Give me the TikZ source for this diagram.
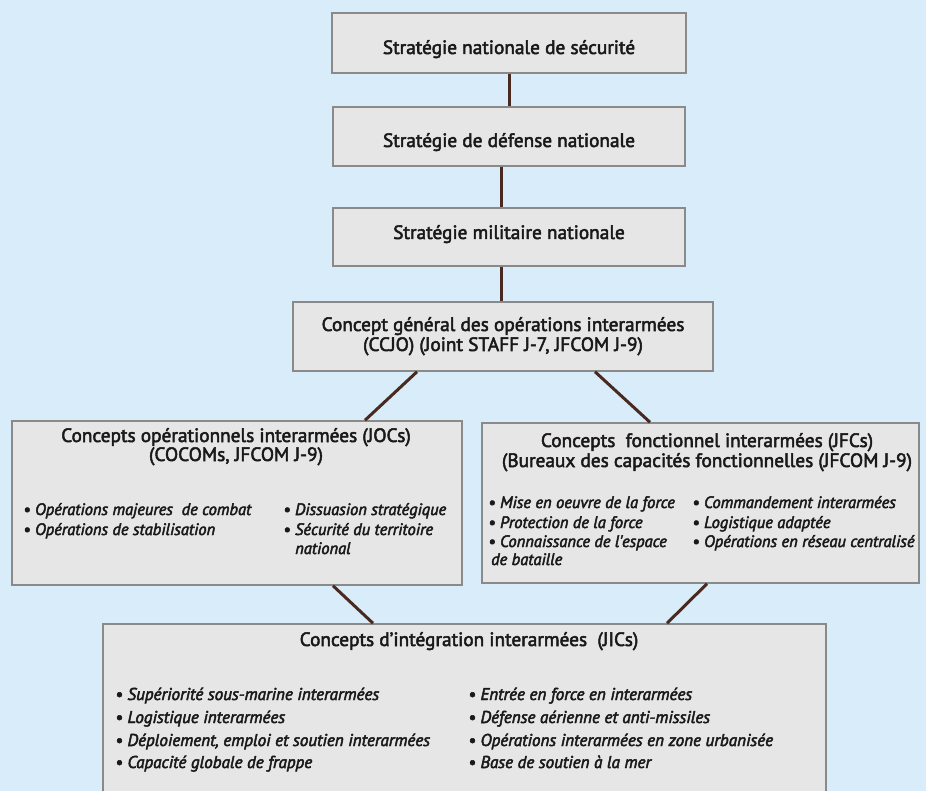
\documentclass[tikz,border=0pt]{standalone}
\usepackage{fontspec}
\setmainfont{PT Sans}
\newfontfamily\tfont{PT Sans}[FakeBold=2.6]
\newfontfamily\ifont{PT Sans Italic}[FakeBold=2.8]
\definecolor{bgblue}{HTML}{D8EDF9}
\definecolor{boxfill}{HTML}{E6E6E6}
\definecolor{boxline}{HTML}{8A8A8A}
\definecolor{conn}{HTML}{4A2A20}
\tikzset{
  box/.style={draw=boxline, line width=1.5pt, fill=boxfill, rectangle, inner sep=0pt},
  ttl/.style={font=\tfont\fontsize{19.3}{21}\selectfont, anchor=base, inner sep=0pt, text=black!90},
  itm/.style={font=\ifont\fontsize{16.5}{18}\selectfont, anchor=base west, inner sep=0pt, text=black!90},
  itmb/.style={font=\ifont\fontsize{17.1}{19}\selectfont, anchor=base west, inner sep=0pt, text=black!90},
  link/.style={draw=conn, line width=3pt}
}
\begin{document}
\begin{tikzpicture}[x=1pt,y=-1pt]
\useasboundingbox (0,0) rectangle (926,791);
\fill[bgblue] (0,0) rectangle (926,791);
% boxes
\node[box, minimum width=354pt, minimum height=60pt] (b1) at (509,43) {};
\node[box, minimum width=352pt, minimum height=59pt] (b2) at (509,136.5) {};
\node[box, minimum width=352pt, minimum height=58pt] (b3) at (509,237) {};
\node[box, minimum width=420pt, minimum height=69pt] (b4) at (503,336.5) {};
\node[box, minimum width=450pt, minimum height=164pt] (joc) at (237,503) {};
\node[box, minimum width=437pt, minimum height=160pt] (jfc) at (700.5,503) {};
\node[box, minimum width=723pt, minimum height=176pt] (jic) at (464.5,712) {};
% connectors
\draw[link] (b1.south) -- (b2.north);
\draw[link] ([xshift=-8pt]b2.south) -- ([xshift=-8pt]b3.north);
\draw[link] ([xshift=-8pt]b3.south) -- ([xshift=-2pt]b4.north);
\draw[link] ([xshift=-86pt]b4.south) -- ([xshift=128pt]joc.north);
\draw[link] ([xshift=92pt]b4.south) -- ([xshift=-50.5pt]jfc.north);
\draw[link] ([xshift=96pt]joc.south) -- ([xshift=-91.5pt]jic.north);
\draw[link] ([xshift=6.5pt]jfc.south) -- ([xshift=202.5pt]jic.north);
% titles
\node[ttl] (t1) at (509,54) {Stratégie nationale de sécurité};
\node[ttl] (t2) at (509,147) {Stratégie de défense nationale};
\node[ttl] (t3) at (509,239) {Stratégie militaire nationale};
\node[ttl] (t4a) at (503,331) {Concept général des opérations interarmées};
\node[ttl] (t4b) at (503,351) {(CCJO) (Joint STAFF J-7, JFCOM J-9)};
\node[ttl] (tja) at (236,442) {Concepts opérationnels interarmées (JOCs)};
\node[ttl] (tjb) at (236,461) {(COCOMs, JFCOM J-9)};
\node[ttl] (tfa) at (707,447) {Concepts\ \ fonctionnel interarmées (JFCs)};
\node[ttl] (tfb) at (707,467) {(Bureaux des capacités fonctionnelles (JFCOM J-9)};
\node[ttl] (tic) at (469,646) {Concepts d’intégration interarmées\ \ (JICs)};
% JOC items
\node[itm] (j1) at (23,515) {• Opérations majeures\ \ de combat};
\node[itm] (j2) at (23,535) {• Opérations de stabilisation};
\node[itm] (j3) at (283,515) {• Dissuasion stratégique};
\node[itm] (j4) at (283,535) {• Sécurité du territoire};
\node[itm] (j5) at (295,554) {national};
% JFC items
\node[itm] (f1) at (488,508) {• Mise en oeuvre de la force};
\node[itm] (f2) at (488,528) {• Protection de la force};
\node[itm] (f3) at (488,547) {• Connaissance de l'espace};
\node[itm] (f4) at (491,565) {de bataille};
\node[itm] (f5) at (692,508) {• Commandement interarmées};
\node[itm] (f6) at (692,528) {• Logistique adaptée};
\node[itm] (f7) at (692,547) {• Opérations en réseau centralisé};
% JIC items
\node[itmb] (i1) at (115,700) {• Supériorité sous-marine interarmées};
\node[itmb] (i2) at (115,723) {• Logistique interarmées};
\node[itmb] (i3) at (115,746) {• Déploiement, emploi et soutien interarmées};
\node[itmb] (i4) at (115,768) {• Capacité globale de frappe};
\node[itmb] (i5) at (468,700) {• Entrée en force en interarmées};
\node[itmb] (i6) at (468,723) {• Défense aérienne et anti-missiles};
\node[itmb] (i7) at (468,746) {• Opérations interarmées en zone urbanisée};
\node[itmb] (i8) at (468,768) {• Base de soutien à la mer};
\end{tikzpicture}
\end{document}
